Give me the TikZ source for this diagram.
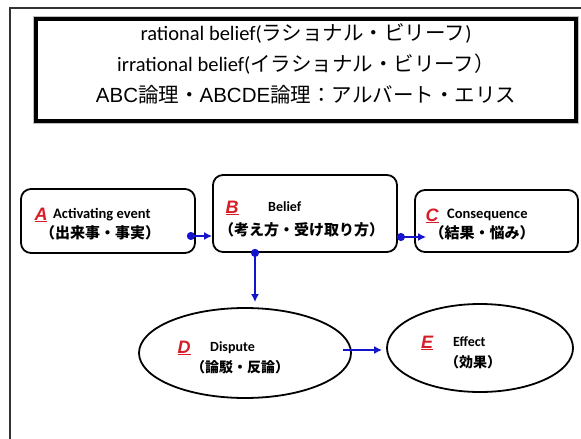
\documentclass[tikz,border=0pt]{standalone}
\usepackage{fontspec}
\setmainfont{Carlito}
\newfontfamily\jp{Noto Sans CJK JP}
\newfontfamily\arial{Liberation Sans}
\usetikzlibrary{arrows.meta,shapes.geometric}
\definecolor{cblue}{RGB}{20,20,205}
\definecolor{cred}{RGB}{215,30,40}
\begin{document}
\begin{tikzpicture}[x=1pt,y=-1pt,
  rbox/.style={draw,line width=1.8pt,rounded corners=10pt,inner sep=0pt},
  ell/.style={draw,ellipse,line width=1.8pt,inner sep=0pt},
  conn/.style={draw=cblue,line width=2.2pt,{Circle[length=8pt]}-{Latex[length=8pt,width=8pt]}},
  arr/.style={draw=cblue,line width=2.2pt,-{Latex[length=8pt,width=8pt]}},
  letter/.style={text=cred,font=\arial\bfseries\itshape\fontsize{18}{18}\selectfont,inner sep=0pt,anchor=base},
  en/.style={font=\bfseries\fontsize{14}{14}\selectfont,inner sep=0pt,anchor=west},
  enl/.style={font=\bfseries\fontsize{14.5}{14.5}\selectfont,inner sep=0pt,anchor=west},
  ja/.style={font=\jp\bfseries\fontsize{15}{15}\selectfont,inner sep=0pt,anchor=west},
  jas/.style={font=\jp\bfseries\fontsize{14}{14}\selectfont,inner sep=0pt,anchor=west},
  titlebox/.style={draw,line width=4.5pt,minimum width=540pt,minimum height=102pt,inner sep=0pt},
  titletext/.style={inner sep=0pt,align=center,font=\fontsize{20.5}{31}\selectfont}]
\useasboundingbox (0,0) rectangle (581,439);
\draw[line width=1.2pt,black!80] (581,8) -- (10,8) -- (10,439);

\node[titlebox] (T) at (306,70) {};
\draw[gray!50,line width=0.8pt] (T.north west) rectangle (T.south east);
\node[titletext] (Tt) at ([yshift=6pt]T.center) {rational belief({\jp ラショナル・ビリーフ})\\
irrational belief({\jp イラショナル・ビリーフ）}\\
{\arial ABC{\jp 論理・}ABCDE{\jp 論理：アルバート・エリス}}};

\node[rbox,minimum width=174pt,minimum height=64pt] (A) at (108,221) {};
\node[rbox,minimum width=184pt,minimum height=77pt] (B) at (305,213.5) {};
\node[rbox,minimum width=163pt,minimum height=62pt] (C) at (496.5,221) {};
\node[ell,minimum width=212pt,minimum height=90pt] (D) at (245,353) {};
\node[ell,minimum width=186pt,minimum height=88pt] (E) at (480,348) {};

\node[letter] (Al) at ([shift={(-67,-1)}]A.center) {\underline{A}};
\node[enl] (Ae) at ([shift={(-55,-6)}]A.center) {Activating event};
\node[ja] (Aj) at ([shift={(-68,12)}]A.center) {（出来事・事実）};

\node[letter] (Bl) at ([shift={(-73,-0.5)}]B.center) {\underline{B}};
\node[en] (Be) at ([shift={(-37,-6.5)}]B.center) {Belief};
\node[ja] (Bj) at ([shift={(-86,16.5)}]B.center) {（考え方・受け取り方）};

\node[letter] (Cl) at ([shift={(-64.5,0)}]C.center) {\underline{C}};
\node[enl] (Ce) at ([shift={(-49.5,-6)}]C.center) {Consequence};
\node[ja] (Cj) at ([shift={(-67,12)}]C.center) {（結果・悩み）};

\node[letter] (Dl) at ([shift={(-61,0)}]D.center) {\underline{D}};
\node[en] (De) at ([shift={(-35,-5)}]D.center) {Dispute};
\node[jas] (Dj) at ([shift={(-54,14)}]D.center) {（論駁・反論）};

\node[letter] (El) at ([shift={(-53,0)}]E.center) {\underline{E}};
\node[en] (Ee) at ([shift={(-27,-6)}]E.center) {Effect};
\node[jas] (Ej) at ([shift={(-35,14)}]E.center) {（効果）};

\coordinate (ab) at ([shift={(-9,15)}]A.east);
\draw[conn] (ab) -- (ab -| B.west);
\coordinate (bc) at ([shift={(-1,23.5)}]B.east);
\draw[conn] (bc) -- ([xshift=12pt]bc -| C.west);
\coordinate (bd) at ([shift={(-50,-4)}]B.south);
\draw[conn] (bd) -- ([yshift=5pt]bd |- D.north);
\coordinate (de) at ([shift={(-9,-3)}]D.east);
\draw[arr] (de) -- ([xshift=-4pt]de -| E.west);
\end{tikzpicture}
\end{document}
